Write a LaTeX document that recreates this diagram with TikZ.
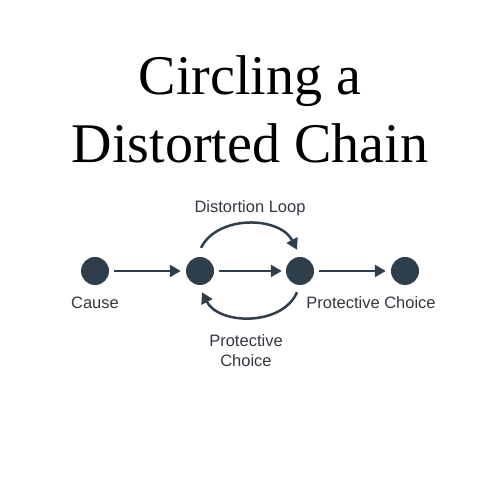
\documentclass[tikz,border=0pt]{standalone}
\usepackage{fontspec}
\setmainfont{Liberation Serif}
\newfontfamily\labelfont{Liberation Sans}
\usetikzlibrary{arrows.meta}
\definecolor{nodecol}{HTML}{2F3E4B}
\definecolor{textcol}{HTML}{333840}
\begin{document}
\begin{tikzpicture}[x=1pt,y=1pt,
  dot/.style={circle,fill=nodecol,inner sep=0pt,minimum size=28pt},
  arr/.style={draw=nodecol,line width=2.5pt,-{Triangle[length=11pt,width=12pt]}},
  lbl/.style={font=\labelfont\fontsize{16.5}{20}\selectfont,text=textcol,inner sep=0pt,anchor=base},
  ttl/.style={font=\fontsize{56}{66}\selectfont,inner sep=0pt,anchor=base}]
\useasboundingbox (0,0) rectangle (500,500);
\node[ttl] (t1) at (250,405) {Circling a};
\node[ttl] (t2) at (250,337) {Distorted Chain};
\node[dot] (n1) at (95,229) {};
\node[dot] (n2) at (200,229) {};
\node[dot] (n3) at (300,229) {};
\node[dot] (n4) at (405,229) {};
\draw[arr,shorten <=5pt,shorten >=5pt] (n1) -- (n2);
\draw[arr,shorten <=5pt,shorten >=4pt] (n2) -- (n3);
\draw[arr,shorten <=5pt,shorten >=5pt] (n3) -- (n4);
\draw[arr] ([shift={(1pt,9pt)}]n2.north) to[out=63,in=117,looseness=1.0] ([shift={(-3pt,7pt)}]n3.north);
\draw[arr] ([shift={(-3pt,-7pt)}]n3.south) to[out=-113,in=-63,looseness=1.0] ([shift={(2pt,-7pt)}]n2.south);
\node[lbl] (l0) at (250,287) {Distortion Loop};
\node[lbl] (l1) at (95,191) {Cause};
\node[lbl] (l2) at (371,191) {Protective Choice};
\node[lbl] (l3) at (246,153) {Protective};
\node[lbl] (l4) at (246,133) {Choice};
\end{tikzpicture}
\end{document}
